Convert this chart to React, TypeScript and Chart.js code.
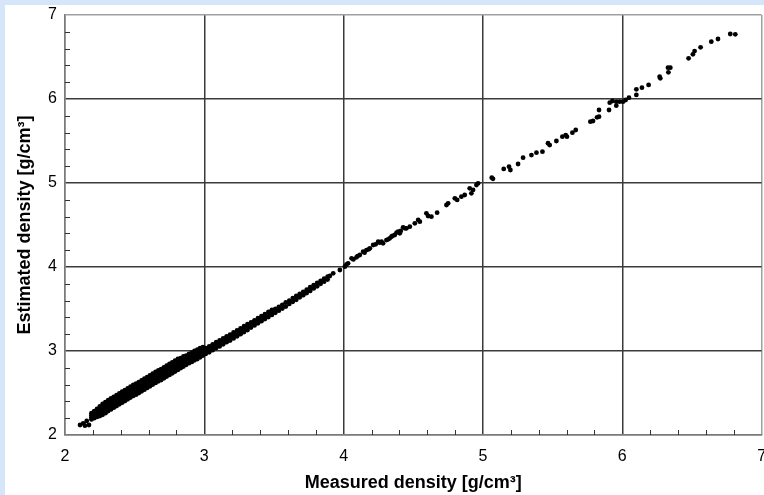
import React, { useEffect, useRef } from "react";
import { Chart, registerables } from "chart.js";

Chart.register(...registerables);

// Axis settings
const axisMin = 2;
const axisMax = 7;
const xTitle = "Measured density [g/cm³]";
const yTitle = "Estimated density [g/cm³]";

// Isolated low points
const lowMeasured = [2.108, 2.131, 2.156, 2.172, 2.143];
const lowEstimated = [2.119, 2.139, 2.167, 2.119, 2.111];

// Dense cloud 2.2 - 3.0 (each measured value with the estimated values read in its column)
const denseMeasured = [
  2.19, 2.21, 2.23, 2.25, 2.27, 2.29, 2.31, 2.33, 2.35, 2.37, 2.39, 2.41, 2.43, 2.45,
  2.47, 2.49, 2.51, 2.53, 2.55, 2.57, 2.59, 2.61, 2.63, 2.65, 2.67, 2.69, 2.71, 2.73,
  2.75, 2.77, 2.79, 2.81, 2.83, 2.85, 2.87, 2.89, 2.91, 2.93, 2.95, 2.97, 2.99,
];
const denseEstimated = [
  [2.185, 2.21, 2.235, 2.26],
  [2.2, 2.23, 2.255, 2.285],
  [2.215, 2.245, 2.28, 2.31],
  [2.225, 2.265, 2.3, 2.34],
  [2.24, 2.28, 2.325, 2.37],
  [2.26, 2.3, 2.345, 2.39],
  [2.285, 2.325, 2.37, 2.415],
  [2.305, 2.345, 2.39, 2.435],
  [2.325, 2.365, 2.41, 2.455],
  [2.345, 2.385, 2.43, 2.475],
  [2.365, 2.405, 2.45, 2.495],
  [2.385, 2.425, 2.47, 2.515],
  [2.405, 2.445, 2.49, 2.535],
  [2.425, 2.465, 2.51, 2.555],
  [2.445, 2.485, 2.53, 2.575],
  [2.465, 2.505, 2.55, 2.595],
  [2.48, 2.52, 2.565, 2.61],
  [2.5, 2.54, 2.585, 2.63],
  [2.52, 2.56, 2.605, 2.65],
  [2.54, 2.58, 2.625, 2.67],
  [2.56, 2.6, 2.645, 2.69],
  [2.58, 2.62, 2.665, 2.71],
  [2.6, 2.64, 2.685, 2.73],
  [2.62, 2.66, 2.705, 2.75],
  [2.64, 2.68, 2.725, 2.77],
  [2.655, 2.695, 2.74, 2.785],
  [2.675, 2.715, 2.76, 2.805],
  [2.695, 2.735, 2.78, 2.825],
  [2.715, 2.755, 2.8, 2.845],
  [2.735, 2.775, 2.82, 2.865],
  [2.755, 2.795, 2.84, 2.885],
  [2.775, 2.815, 2.86, 2.905],
  [2.795, 2.835, 2.875, 2.915],
  [2.815, 2.855, 2.895, 2.935],
  [2.835, 2.87, 2.91, 2.945],
  [2.855, 2.89, 2.93, 2.965],
  [2.87, 2.905, 2.945, 2.98],
  [2.89, 2.925, 2.965, 3.0],
  [2.905, 2.94, 2.98, 3.015],
  [2.925, 2.96, 3.0, 3.035],
  [2.945, 2.975, 3.015, 3.045],
];

// Band 3.0 - 3.9
const midMeasured = [
  3.01, 3.035, 3.06, 3.085, 3.11, 3.135, 3.16, 3.185, 3.21, 3.235, 3.26, 3.285, 3.31,
  3.335, 3.36, 3.385, 3.41, 3.435, 3.46, 3.485, 3.51, 3.535, 3.56, 3.585, 3.61, 3.635,
  3.66, 3.685, 3.71, 3.735, 3.76, 3.785, 3.81, 3.835, 3.86, 3.885,
];
const midEstimated = [
  [2.965, 3.0, 3.035],
  [2.985, 3.02, 3.055],
  [3.01, 3.045, 3.08],
  [3.035, 3.07, 3.105],
  [3.055, 3.09, 3.125],
  [3.08, 3.115, 3.15],
  [3.105, 3.14, 3.175],
  [3.125, 3.16, 3.195],
  [3.15, 3.185, 3.22],
  [3.175, 3.21, 3.245],
  [3.2, 3.235, 3.27],
  [3.225, 3.26, 3.295],
  [3.25, 3.285, 3.32],
  [3.28, 3.31, 3.34],
  [3.305, 3.335, 3.365],
  [3.33, 3.36, 3.39],
  [3.355, 3.385, 3.415],
  [3.38, 3.41, 3.44],
  [3.405, 3.435, 3.465],
  [3.43, 3.46, 3.49],
  [3.455, 3.5],
  [3.48, 3.525],
  [3.505, 3.55],
  [3.53, 3.58],
  [3.56, 3.6],
  [3.585, 3.63],
  [3.61, 3.655],
  [3.64, 3.68],
  [3.665, 3.705],
  [3.69, 3.73],
  [3.715, 3.76],
  [3.745, 3.785],
  [3.77, 3.81],
  [3.8, 3.835],
  [3.825, 3.86],
  [3.85, 3.885],
];

// Sparse points 3.9 - 5.0
const upperMeasured = [
  3.901, 3.925, 3.973, 4.009, 4.02, 4.032, 4.057, 4.07, 4.092, 4.1, 4.116, 4.14, 4.15,
  4.164, 4.18, 4.188, 4.212, 4.23, 4.248, 4.26, 4.272, 4.283, 4.307, 4.32, 4.331, 4.343,
  4.35, 4.367, 4.38, 4.391, 4.403, 4.41, 4.427, 4.44, 4.451, 4.475, 4.511, 4.535, 4.547,
  4.594, 4.606, 4.63, 4.671, 4.738, 4.75, 4.798, 4.815, 4.845, 4.869, 4.905, 4.917,
  4.929, 4.953, 4.965,
];
const upperEstimated = [
  3.893, 3.925, 3.964, 4.004, 4.03, 4.044, 4.103, 4.09, 4.115, 4.13, 4.143, 4.182, 4.17,
  4.202, 4.21, 4.222, 4.262, 4.27, 4.301, 4.29, 4.301, 4.282, 4.321, 4.33, 4.341, 4.361,
  4.37, 4.381, 4.41, 4.42, 4.401, 4.43, 4.472, 4.46, 4.46, 4.48, 4.52, 4.56, 4.54,
  4.639, 4.607, 4.599, 4.647, 4.738, 4.758, 4.818, 4.798, 4.837, 4.857, 4.937, 4.877,
  4.917, 4.976, 4.996,
];

// Sparse points 5.0 - 6.8
const topMeasured = [
  5.063, 5.072, 5.149, 5.187, 5.197, 5.252, 5.288, 5.348, 5.384, 5.427, 5.467, 5.479,
  5.527, 5.57, 5.594, 5.603, 5.642, 5.666, 5.771, 5.79, 5.819, 5.833, 5.833, 5.905,
  5.91, 5.929, 5.957, 5.957, 5.981, 6.005, 6.024, 6.048, 6.101, 6.101, 6.141, 6.189,
  6.268, 6.273, 6.328, 6.345, 6.331, 6.476, 6.507, 6.519, 6.562, 6.639, 6.687, 6.775,
  6.811,
];
const topEstimated = [
  5.063, 5.05, 5.167, 5.194, 5.155, 5.226, 5.301, 5.333, 5.361, 5.373, 5.473, 5.452,
  5.5, 5.551, 5.571, 5.551, 5.599, 5.631, 5.73, 5.738, 5.782, 5.79, 5.869, 5.869,
  5.956, 5.976, 5.968, 5.92, 5.968, 5.968, 5.988, 6.016, 6.115, 6.048, 6.135, 6.167,
  6.266, 6.246, 6.373, 6.373, 6.318, 6.484, 6.532, 6.571, 6.615, 6.683, 6.714, 6.774,
  6.77,
];

function buildPoints() {
  const pts: { x: number; y: number }[] = [];
  lowMeasured.forEach((x, i) => pts.push({ x, y: lowEstimated[i] }));
  denseMeasured.forEach((x, i) => denseEstimated[i].forEach((y) => pts.push({ x, y })));
  midMeasured.forEach((x, i) => midEstimated[i].forEach((y) => pts.push({ x, y })));
  upperMeasured.forEach((x, i) => pts.push({ x, y: upperEstimated[i] }));
  topMeasured.forEach((x, i) => pts.push({ x, y: topEstimated[i] }));
  return pts;
}

const FONT = 'Arial, "Liberation Sans", Helvetica, sans-serif';

const minorTicksPlugin = {
  id: "minorTicks",
  afterDatasetsDraw(chart: any) {
    const { ctx, chartArea, scales } = chart;
    const xs = scales.x;
    const ys = scales.y;
    ctx.save();
    ctx.strokeStyle = "#333";
    ctx.lineWidth = 1;
    ctx.beginPath();
    for (let i = 1; i < 25; i++) {
      if (i % 5 === 0) continue;
      const v = axisMin + i * 0.2;
      const px = Math.round(xs.getPixelForValue(v)) + 0.5;
      ctx.moveTo(px, chartArea.bottom);
      ctx.lineTo(px, chartArea.bottom - 5);
      const py = Math.round(ys.getPixelForValue(v)) + 0.5;
      ctx.moveTo(chartArea.left, py);
      ctx.lineTo(chartArea.left + 5, py);
    }
    ctx.stroke();
    ctx.restore();
  },
};

function gridColor(ctx: any) {
  const v = ctx.tick ? ctx.tick.value : null;
  if (v === axisMax) return "#a0a0a0";
  if (v === axisMin) return "#7a7a7a";
  return "#3a3a3a";
}

export default function App() {
  const canvasRef = useRef<HTMLCanvasElement | null>(null);

  useEffect(() => {
    if (!canvasRef.current) return;
    const chart = new Chart(canvasRef.current, {
      type: "scatter",
      data: {
        datasets: [
          {
            data: buildPoints(),
            backgroundColor: "#000",
            borderWidth: 0,
            pointRadius: 2.4,
            pointHoverRadius: 2.4,
            pointStyle: "circle",
          },
        ],
      },
      options: {
        animation: false,
        responsive: false,
        devicePixelRatio: 1,
        events: [],
        layout: { padding: { left: 0, right: 2, top: 10, bottom: 0 } },
        plugins: {
          legend: { display: false },
          tooltip: { enabled: false },
          title: { display: false },
        },
        scales: {
          x: {
            type: "linear",
            min: axisMin,
            max: axisMax,
            afterFit: (scale: any) => {
              scale.height = 60;
              scale.paddingLeft = 0;
              scale.paddingRight = 0;
            },
            ticks: {
              stepSize: 1,
              padding: 12,
              color: "#000",
              font: { family: FONT, size: 16 },
              maxRotation: 0,
              autoSkip: false,
            },
            grid: {
              color: gridColor,
              lineWidth: 1.5,
              drawTicks: false,
            },
            border: { display: true, color: "#7a7a7a", width: 1.5 },
            title: {
              display: true,
              text: xTitle,
              color: "#000",
              font: { family: FONT, size: 18, weight: "bold" },
              padding: { top: 0, bottom: 1 },
            },
          },
          y: {
            type: "linear",
            min: axisMin,
            max: axisMax,
            afterFit: (scale: any) => {
              scale.width = 60;
              scale.paddingTop = 0;
              scale.paddingBottom = 0;
            },
            ticks: {
              stepSize: 1,
              padding: 8,
              color: "#000",
              font: { family: FONT, size: 16 },
              autoSkip: false,
            },
            grid: {
              color: gridColor,
              lineWidth: 1.5,
              drawTicks: false,
            },
            border: { display: true, color: "#7a7a7a", width: 1.5 },
            title: {
              display: true,
              text: yTitle,
              color: "#000",
              font: { family: FONT, size: 18, weight: "bold" },
              padding: { top: 9, bottom: 0 },
            },
          },
        },
      },
      plugins: [minorTicksPlugin],
    });
    return () => chart.destroy();
  }, []);

  return (
    <div
      style={{
        position: "fixed",
        left: 0,
        top: 0,
        width: 764,
        height: 495,
        background: "#d6e6fa",
        overflow: "hidden",
      }}
    >
      <div
        style={{
          position: "absolute",
          left: 5,
          top: 5,
          width: 759,
          height: 490,
          background: "#ffffff",
        }}
      >
        <canvas
          ref={canvasRef}
          width={759}
          height={490}
          style={{ width: 759, height: 490, display: "block" }}
        />
      </div>
    </div>
  );
}
